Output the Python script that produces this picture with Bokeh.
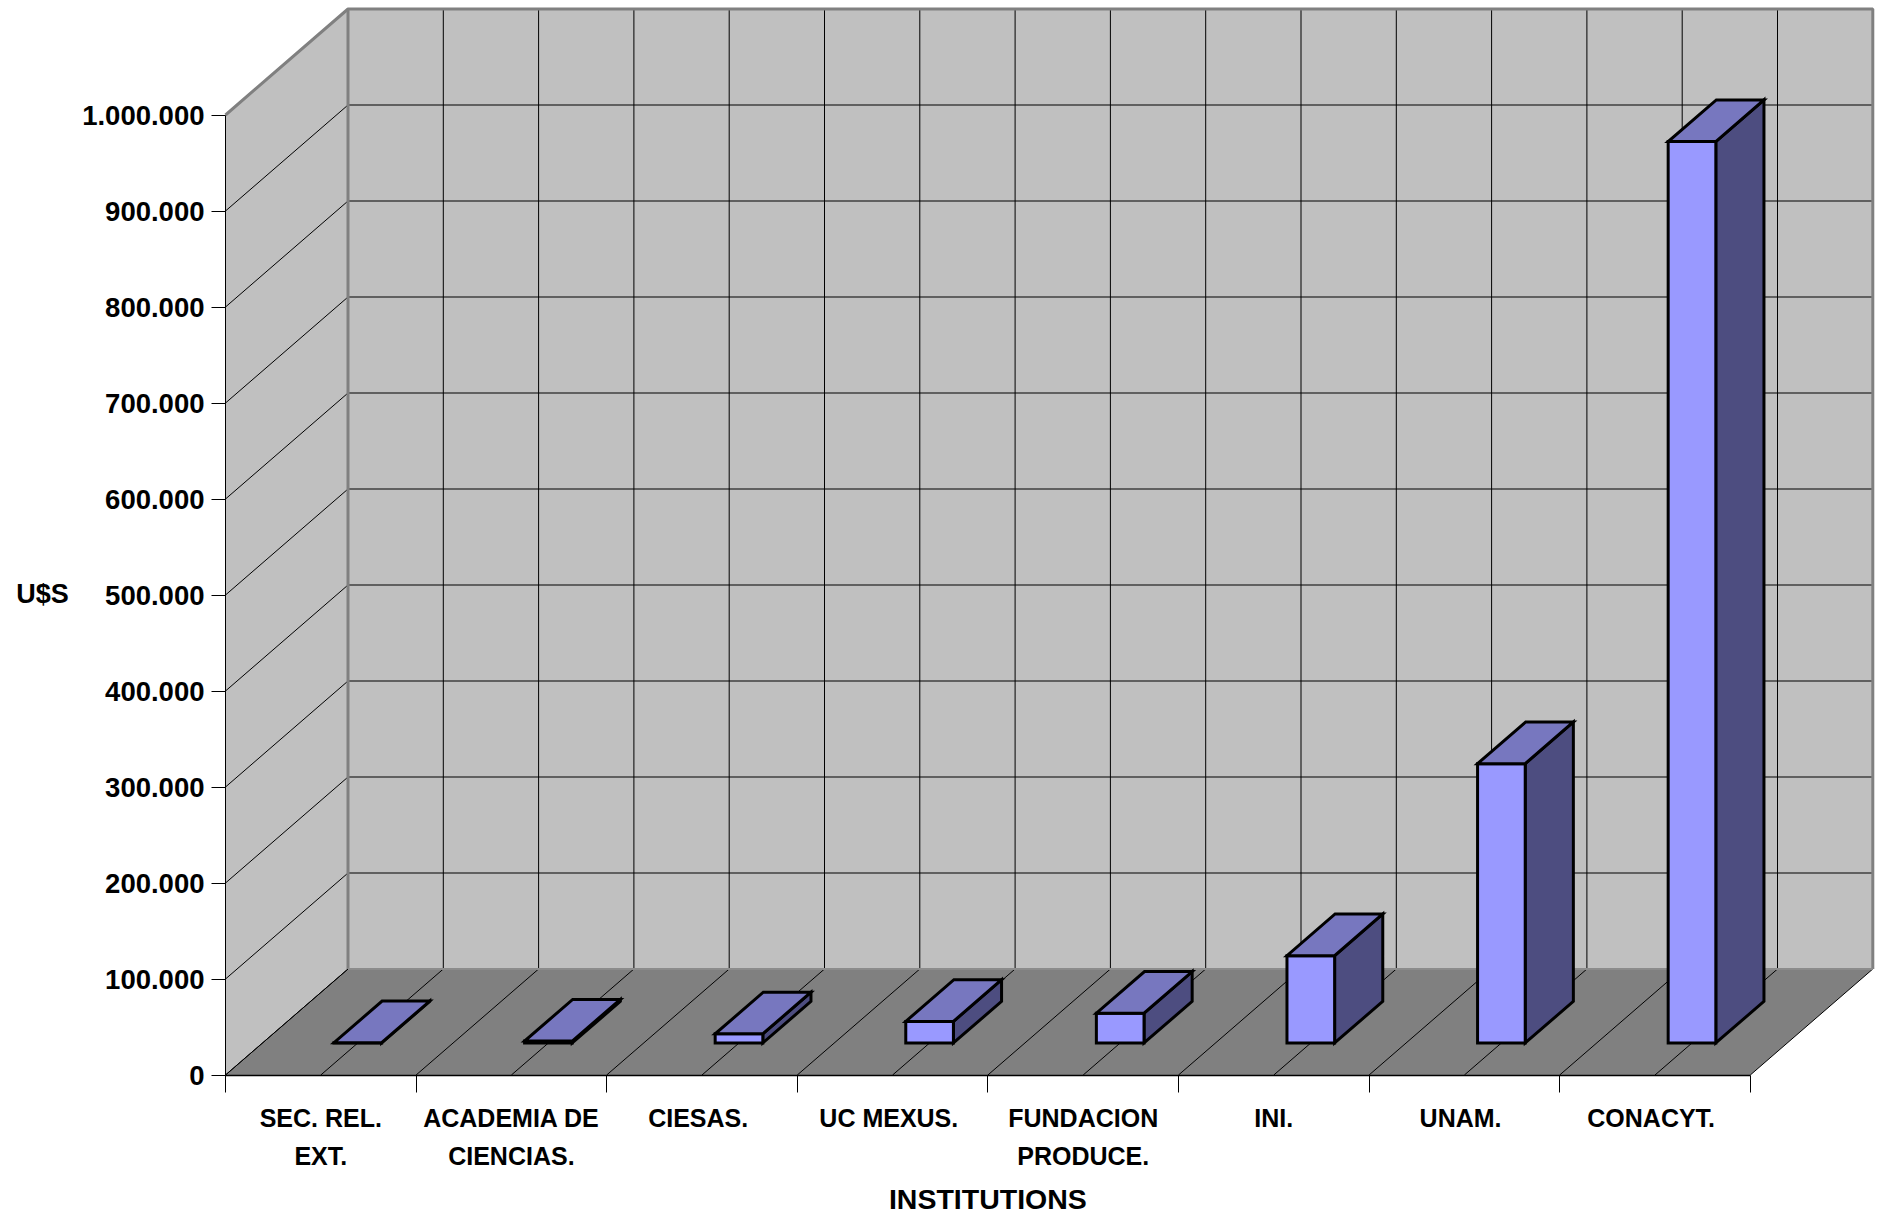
from bokeh.plotting import figure
from bokeh.models import FixedTicker, Range1d
from bokeh.core.properties import value
from bokeh.embed import file_html
from bokeh.resources import INLINE

# ---- data ----
categories = ["SEC. REL.\nEXT.", "ACADEMIA DE\nCIENCIAS.", "CIESAS.", "UC MEXUS.",
              "FUNDACION\nPRODUCE.", "INI.", "UNAM.", "CONACYT."]
values = [300, 2000, 9500, 22500, 31000, 91000, 291000, 939000]
y_ticks = [0, 100000, 200000, 300000, 400000, 500000, 600000, 700000, 800000, 900000, 1000000]
y_labels = ["0", "100.000", "200.000", "300.000", "400.000", "500.000", "600.000",
            "700.000", "800.000", "900.000", "1.000.000"]
y_title = "U$S"
x_title = "INSTITUTIONS"

# ---- oblique projection, in data units ----
DX = 122.5 / 190.6          # shift of the back wall, in categories
DY = 106 / 960 * 1e6        # shift of the back wall, in value units
BAR_W = 0.25                # bar width, in categories
D0, D1 = 0.302, 0.695       # bar depth span, fraction of floor depth
LABEL_SHIFT = [0, 0, -0.02, -0.02, 0, 0, -0.02, -0.02]  # label nudges, in categories
N = len(categories)
YMAX = y_ticks[-1]

WALL, FLOOR, GREY = "#C0C0C0", "#808080", "#808080"
FRONT, TOP, SIDE = "#9999FF", "#7777BF", "#4D4D80"
FONT = "Liberation Sans"

W, H = 1883, 1215
PX_CAT, PX_VAL = 190.6, 960 / 1e6
x_start = -225 / PX_CAT
y_start = -140.5 / PX_VAL
p = figure(frame_width=W, frame_height=H, output_backend="svg", toolbar_location=None,
           x_range=Range1d(x_start, x_start + W / PX_CAT),
           y_range=Range1d(y_start, y_start + H / PX_VAL),
           min_border=0, outline_line_color=None, background_fill_color="white")
p.grid.visible = False

# walls and floor
p.patch([DX, N + DX, N + DX, DX], [DY, DY, YMAX + DY, YMAX + DY], fill_color=WALL, line_color=None)
p.patch([0, DX, DX, 0], [0, DY, YMAX + DY, YMAX], fill_color=WALL, line_color=None)
p.patch([0, N, N + DX, DX], [0, 0, DY, DY], fill_color=FLOOR, line_color=None)

# gridlines
half = [i / 2 for i in range(2 * N + 1)]
p.multi_line([[h + DX, h + DX] for h in half[1:-1]], [[DY, YMAX + DY]] * (2 * N - 1),
             line_color="black", line_width=1)
p.multi_line([[DX, N + DX]] * (len(y_ticks) - 2), [[v + DY, v + DY] for v in y_ticks[1:-1]],
             line_color="black", line_width=1)
p.multi_line([[0, DX]] * (len(y_ticks) - 1), [[v, v + DY] for v in y_ticks[:-1]],
             line_color="black", line_width=1)
p.multi_line([[h, h + DX] for h in half[:-1]] + [[N, N + DX]], [[0, DY]] * (2 * N + 1),
             line_color="black", line_width=1)

# wall outlines
p.line([0, DX, N + DX, N + DX], [YMAX, YMAX + DY, YMAX + DY, DY], line_color=GREY, line_width=3)
p.line([DX, DX], [DY, YMAX + DY], line_color=GREY, line_width=3)
p.line([DX, N + DX], [DY, DY], line_color="#8C8C8C", line_width=2)

# bars
top_x, top_y, side_x, side_y, front_x, front_y = [], [], [], [], [], []
for i, v in enumerate(values):
    x0 = i + 0.5 - BAR_W / 2 + D0 * DX
    x1 = x0 + BAR_W
    b0 = D0 * DY
    sx, sy = (D1 - D0) * DX, (D1 - D0) * DY
    front_x.append([x0, x1, x1, x0])
    front_y.append([b0, b0, b0 + v, b0 + v])
    side_x.append([x1, x1 + sx, x1 + sx, x1])
    side_y.append([b0, b0 + sy, b0 + sy + v, b0 + v])
    top_x.append([x0, x1, x1 + sx, x0 + sx])
    top_y.append([b0 + v, b0 + v, b0 + sy + v, b0 + sy + v])
style = dict(line_color="black", line_width=3, line_join="miter")
p.patches(side_x, side_y, fill_color=SIDE, **style)
p.patches(front_x, front_y, fill_color=FRONT, **style)
p.patches(top_x, top_y, fill_color=TOP, **style)

# axes, fixed at the data origin so the frame can span the whole canvas
ya = p.yaxis[0]
ya.fixed_location = 0
ya.ticker = FixedTicker(ticks=y_ticks)
ya.major_label_overrides = dict(zip(y_ticks, y_labels))
ya.bounds = (0, YMAX)
ya.major_tick_out = 14
ya.major_tick_in = 0
ya.minor_tick_out = 0
ya.minor_tick_in = 0
ya.major_label_standoff = 7
ya.major_label_text_font = FONT
ya.major_label_text_font_style = "bold"
ya.major_label_text_font_size = "27.5px"
ya.major_label_text_color = "black"
ya.axis_line_color = "black"
ya.major_tick_line_color = "black"

xa = p.xaxis[0]
xa.fixed_location = 0
centers = [i + 0.5 + s for i, s in enumerate(LABEL_SHIFT)]
xa.ticker = FixedTicker(ticks=centers, minor_ticks=list(range(N + 1)))
xa.major_label_overrides = dict(zip(centers, categories))
xa.bounds = (0, N)
xa.major_tick_line_color = None
xa.major_tick_out = 17
xa.major_tick_in = 0
xa.minor_tick_out = 17
xa.minor_tick_in = 0
xa.minor_tick_line_color = "black"
xa.major_label_standoff = 12
xa.major_label_text_font = FONT
xa.major_label_text_font_style = "bold"
xa.major_label_text_font_size = "25px"
xa.major_label_text_color = "black"
xa.major_label_text_line_height = 1.36
xa.axis_line_color = "black"
xa.axis_line_width = 1.5

# axis titles
p.text([4], [-129000], text=[x_title], text_align="center", text_baseline="middle",
       text_font=value(FONT), text_font_style="bold", text_font_size="28.5px", text_color="black")
p.text([-0.96], [501500], text=[y_title], text_align="center", text_baseline="middle",
       text_font=value(FONT), text_font_style="bold", text_font_size="27px", text_color="black")

open("out.html", "w").write(file_html(p, INLINE))
